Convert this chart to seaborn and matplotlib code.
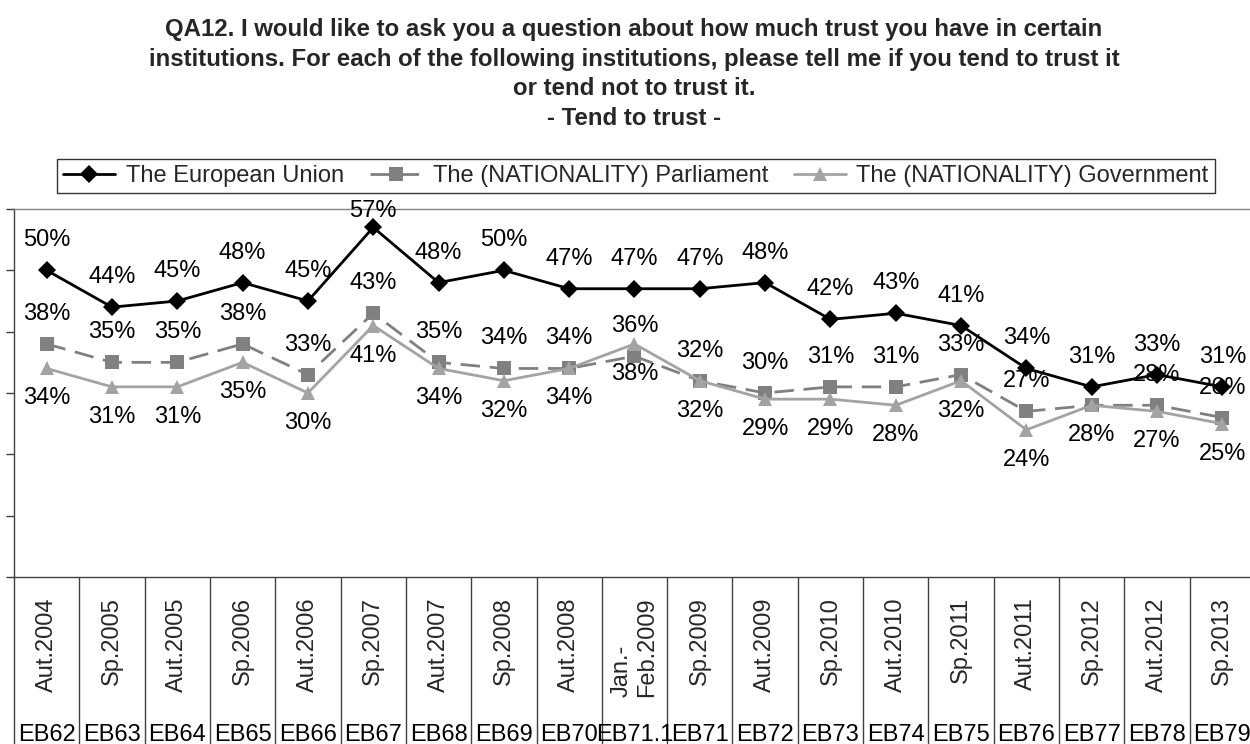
import numpy as np
import pandas as pd
import matplotlib
matplotlib.use("Agg")
import matplotlib.pyplot as plt
import seaborn as sns

periods = ["Aut.2004", "Sp.2005", "Aut.2005", "Sp.2006", "Aut.2006", "Sp.2007",
           "Aut.2007", "Sp.2008", "Aut.2008", "Jan.-\nFeb.2009", "Sp.2009", "Aut.2009",
           "Sp.2010", "Aut.2010", "Sp.2011", "Aut.2011", "Sp.2012", "Aut.2012", "Sp.2013"]
surveys = ["EB62", "EB63", "EB64", "EB65", "EB66", "EB67", "EB68", "EB69", "EB70",
           "EB71.1", "EB71", "EB72", "EB73", "EB74", "EB75", "EB76", "EB77", "EB78", "EB79"]
eu = [50, 44, 45, 48, 45, 57, 48, 50, 47, 47, 47, 48, 42, 43, 41, 34, 31, 33, 31]
parliament = [38, 35, 35, 38, 33, 43, 35, 34, 34, 36, 32, 30, 31, 31, 33, 27, 28, 28, 26]
government = [34, 31, 31, 35, 30, 41, 34, 32, 34, 38, 32, 29, 29, 28, 32, 24, 28, 27, 25]
series_names = ["The European Union", "The (NATIONALITY) Parliament",
                "The (NATIONALITY) Government"]
title = ("QA12. I would like to ask you a question about how much trust you have in certain\n"
         "institutions. For each of the following institutions, please tell me if you tend to trust it\n"
         "or tend not to trust it.\n"
         "- Tend to trust -")

sns.set_theme(style="white")
plt.rcParams["font.family"] = ["Liberation Sans", "DejaVu Sans"]

n = len(periods)
df = pd.DataFrame({
    "pos": list(range(n)) * 3,
    "value": eu + parliament + government,
    "series": np.repeat(series_names, n),
})

W, H = 1250, 744
ax_left, ax_top, ax_w, ax_h = 14, 209, 1241, 368
fig = plt.figure(figsize=(W / 100, H / 100), dpi=100)
ax = fig.add_axes([ax_left / W, (H - ax_top - ax_h) / H, ax_w / W, ax_h / H])

palette = {series_names[0]: "#000000", series_names[1]: "#808080", series_names[2]: "#a3a3a3"}
markers = {series_names[0]: "D", series_names[1]: "s", series_names[2]: "^"}
dashes = {series_names[0]: "", series_names[1]: (7, 3.5), series_names[2]: ""}

sns.lineplot(data=df, x="pos", y="value", hue="series", style="series",
             palette=palette, markers=markers, dashes=dashes, linewidth=2,
             markersize=9.5, markeredgewidth=0, ax=ax)

ymax = 60
px_per_unit = ax_h / ymax
# data labels (EU and Parliament above the point, Government below)
label_fs = 17
for name, vals, sign in ((series_names[0], eu, 1), (series_names[1], parliament, 1),
                         (series_names[2], government, -1)):
    for i, v in enumerate(vals):
        # the reference shows only one "28%" at Sp.2012 (Parliament and Government coincide)
        if name == series_names[1] and periods[i] == "Sp.2012":
            continue
        off_px = 30.0
        if sign > 0:
            # keep the label centre just inside the plot area, as the reference does for 57%
            off_px = min(off_px, (ymax - v) * px_per_unit - 2)
        ax.annotate(f"{v}%", (i, v), xytext=(0, sign * off_px * 0.72), textcoords="offset points",
                    ha="center", va="center", fontsize=label_fs, color="black",
                    annotation_clip=False, zorder=5)

ax.set_xlim(-0.5, n - 0.5)
ax.set_ylim(0, ymax)
ax.set_yticks(range(0, ymax + 1, 10))
ax.set_yticklabels([])
ax.set_xlabel("")
ax.set_ylabel("")
ax.tick_params(axis="y", left=True, length=6, width=1, color="#404040", direction="out")

ax.set_xticks(range(n))
ax.set_xticklabels(periods, rotation=90, fontsize=17, va="top", ha="center")
for lbl in ax.get_xticklabels():
    lbl.set_multialignment("left")
ax.tick_params(axis="x", which="major", length=0, pad=14.4, bottom=True)
ax.set_xticks(np.arange(-0.5, n, 1), minor=True)
ax.tick_params(axis="x", which="minor", length=125, width=1, color="#404040",
               direction="out", bottom=True)

for i, s in enumerate(surveys):
    ax.text(i, (577 - 741) / 368, s, transform=ax.get_xaxis_transform(), ha="center",
            va="baseline", fontsize=17, color="black")

for side, col in (("left", "#404040"), ("bottom", "#404040"), ("top", "#808080"), ("right", "#808080")):
    ax.spines[side].set_visible(True)
    ax.spines[side].set_color(col)
    ax.spines[side].set_linewidth(1)

handles, labels = ax.get_legend_handles_labels()
ax.legend(handles, labels, ncol=3, loc="center",
          bbox_to_anchor=(636 / W, 1 - 176 / H), bbox_transform=fig.transFigure,
          frameon=True, fancybox=False, edgecolor="black", fontsize=17,
          handlelength=2.2, handletextpad=0.45, columnspacing=1.1, borderpad=0.25,
          borderaxespad=0)
leg = ax.get_legend()
leg.get_frame().set_linewidth(1)

fig.text(634 / W, 1 - 18 / H, title, ha="center", va="top", fontsize=17.3,
         fontweight="bold", linespacing=1.37)

fig.savefig("out.png", dpi=100)
